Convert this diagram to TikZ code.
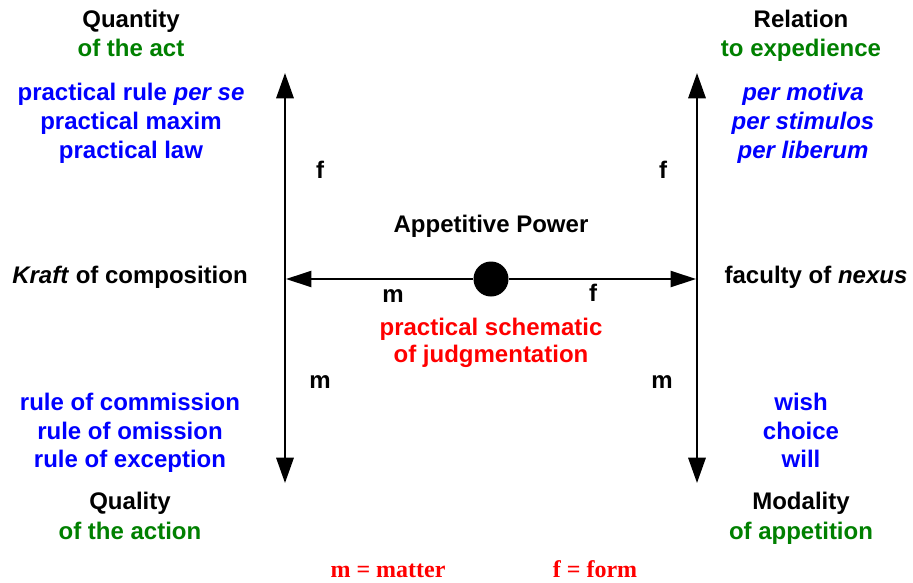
\documentclass[tikz,border=0pt]{standalone}
\usepackage{fontspec}
\setmainfont{Liberation Sans}
\newfontfamily\legendfont{Liberation Serif}
\usetikzlibrary{arrows.meta}
\definecolor{txtblue}{RGB}{0,0,255}
\definecolor{txtgreen}{RGB}{0,128,0}
\definecolor{txtred}{RGB}{255,0,0}
\begin{document}
\begin{tikzpicture}[x=0.75pt,y=-0.75pt,
  lbl/.style={inner sep=0pt,text height=14pt,text depth=4pt,font=\fontsize{18}{21.75}\selectfont\bfseries},
  head/.style={lbl,text=black},
  sub/.style={lbl,text=txtgreen},
  item/.style={lbl,text=txtblue},
  schem/.style={lbl,text=txtred},
  legend/.style={lbl,text=txtred,font=\legendfont\fontsize{18}{21.75}\selectfont\bfseries},
  axis/.style={line width=1.7pt,{Triangle[length=19pt,width=13pt]}-{Triangle[length=19pt,width=13pt]}},
  half/.style={line width=1.7pt,-{Triangle[length=19pt,width=12pt]}}]
\useasboundingbox (0,0) rectangle (913,582);
% axes
\coordinate (LT) at (285,73);
\coordinate (LB) at (285,483);
\coordinate (RT) at (697,73);
\coordinate (RB) at (697,483);
\coordinate (HL) at (286,279);
\coordinate (HR) at (696,279);
\draw[axis] (LT) -- (LB);
\draw[axis] (RT) -- (RB);
\node[circle,fill=black,minimum size=35pt*0.75,inner sep=0pt] (c) at (491,279) {};
\draw[half] (c) -- (HL);
\draw[half] (c) -- (HR);
% top left
\node[head] (qty) at (131,21) {Quantity};
\node[sub] (qtys) at (131,50) {of the act};
\node[item] (q1) at (131,94) {practical rule \textit{per se}};
\node[item] (q2) at (131,123) {practical maxim};
\node[item] (q3) at (131,152) {practical law};
% top right
\node[head] (rel) at (801,21) {Relation};
\node[sub] (rels) at (801,50) {to expedience};
\node[item] (r1) at (803,94) {\textit{per motiva}};
\node[item] (r2) at (803,123) {\textit{per stimulos}};
\node[item] (r3) at (803,152) {\textit{per liberum}};
% f labels
\node[head] (f1) at (320,172) {f};
\node[head] (f2) at (663,172) {f};
% center
\node[head] (app) at (491,226) {Appetitive Power};
\node[head] (kraft) at (130,277) {\textit{Kraft} of composition};
\node[head] (nexus) at (816,277) {faculty of \textit{nexus}};
\node[head] (m0) at (393,296) {m};
\node[head] (f0) at (593,295) {f};
\node[schem] (s1) at (491,329) {practical schematic};
\node[schem] (s2) at (491,356) {of judgmentation};
\node[head] (m1) at (320,382) {m};
\node[head] (m2) at (662,382) {m};
% bottom left
\node[item] (b1) at (130,404) {rule of commission};
\node[item] (b2) at (130,433) {rule of omission};
\node[item] (b3) at (130,461) {rule of exception};
\node[head] (qual) at (130,503) {Quality};
\node[sub] (quals) at (130,533) {of the action};
% bottom right
\node[item] (w1) at (801,404) {wish};
\node[item] (w2) at (801,433) {choice};
\node[item] (w3) at (801,461) {will};
\node[head] (mod) at (801,503) {Modality};
\node[sub] (mods) at (801,533) {of appetition};
% legend
\node[legend] (lm) at (388,571) {m = matter};
\node[legend] (lf) at (595,571) {f = form};
\end{tikzpicture}
\end{document}
